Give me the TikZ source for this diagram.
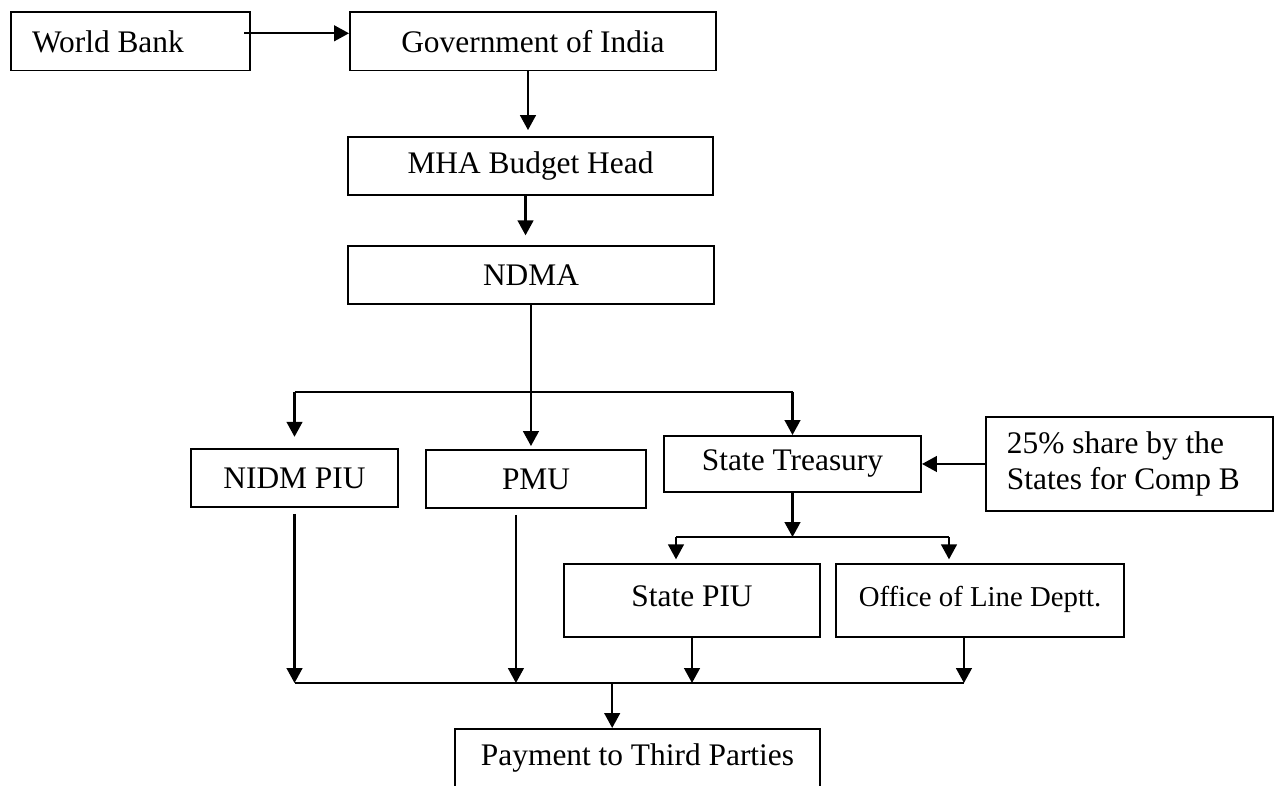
\documentclass[tikz,border=0pt]{standalone}
\usepackage{fontspec}
\setmainfont{Liberation Serif}
\usetikzlibrary{arrows.meta,positioning,calc}

\begin{document}
\begin{tikzpicture}[
    box/.style={rectangle, draw, line width=0.75pt, minimum height=0.78cm,
                align=center, font=\fontsize{12}{13.5}\selectfont},
    raised/.style={minimum height=0.98cm, text height=8.5pt, text depth=4.3pt},
    link/.style={line width=0.8pt},
    arr/.style={-{Triangle[length=5.7pt,width=6pt]}, line width=0.8pt}
  ]

  % ---- Page frame ----
  \useasboundingbox (0,0) rectangle (17.166,-10.544);

  % ---- Funding chain (top) ----
  \node[box, minimum width=3.21cm, text width=2.646cm, align=flush left,
        inner xsep=0.282cm] (wb) at (1.753,-0.557) {World Bank};
  \node[box, minimum width=4.916cm] (goi) at (7.159,-0.557) {Government of India};
  \node[box, minimum width=4.903cm] (mha) at (7.126,-2.230) {MHA Budget Head};
  \node[box, minimum width=4.916cm] (ndma) at (7.132,-3.694) {NDMA};

  % ---- Implementing units ----
  \node[box, minimum width=2.780cm] (nidm) at (3.956,-6.420) {NIDM PIU};
  \node[box, minimum width=2.955cm] (pmu) at (7.200,-6.434) {PMU};
  \node[box, minimum width=3.452cm, minimum height=0.752cm]
    (treas) at (10.645,-6.232) {State Treasury};
  \node[box, minimum width=3.855cm, minimum height=1.263cm, text width=3.291cm,
        align=flush left, inner xsep=0.282cm]
    (share) at (15.171,-6.232) {25\% share by the\\States for Comp B};

  % ---- State level ----
  \node[box, raised, minimum width=3.439cm] (spiu) at (9.295,-8.066) {State PIU};
  \node[box, raised, minimum width=3.868cm, font=\fontsize{11}{13}\selectfont]
    (dept) at (13.163,-8.066) {Office of Line Deptt.};

  % ---- Final payment ----
  \node[box, minimum width=4.903cm] (pay) at (8.563,-10.181) {Payment to Third Parties};

  % ---- Top arrows ----
  \draw[arr] ([xshift=-0.09cm,yshift=0.11cm]wb.east) -- ([yshift=0.11cm]goi.west);
  \draw[arr, shorten >=0.08cm] ([xshift=-0.067cm]goi.south)
    -- ([xshift=-0.067cm]goi.south |- mha.north);
  \draw[arr, shorten >=0.13cm] ([xshift=-0.067cm]mha.south)
    -- ([xshift=-0.067cm]mha.south |- ndma.north);
  \draw[arr, shorten >=0.04cm] (ndma.south) -- (ndma.south |- pmu.north);

  % ---- Split below NDMA ----
  \coordinate (split) at (7.132,-5.265);
  \draw[link] (split -| nidm.north) -- (split -| treas.north);
  \draw[arr, shorten >=0.15cm] (split -| nidm.north) -- (nidm.north);
  \draw[arr] (split -| treas.north) -- (treas.north);

  % ---- State share into treasury ----
  \draw[arr] (share.west) -- (treas.east);

  % ---- Split below State Treasury ----
  \coordinate (split2) at (10.645,-7.213);
  \draw[arr] (treas.south) -- (split2);
  \draw[link] ([xshift=-0.215cm]split2 -| spiu.north)
    -- ([xshift=-0.416cm]split2 -| dept.north);
  \draw[arr, shorten >=0.05cm] ([xshift=-0.215cm]split2 -| spiu.north)
    -- ([xshift=-0.215cm]spiu.north);
  \draw[arr, shorten >=0.05cm] ([xshift=-0.416cm]split2 -| dept.north)
    -- ([xshift=-0.416cm]dept.north);

  % ---- Merge into payment ----
  \coordinate (merge) at (8.563,-9.174);
  \draw[arr, shorten <=0.08cm] (nidm.south) -- (nidm.south |- merge);
  \draw[arr, shorten <=0.08cm] ([xshift=-0.27cm]pmu.south)
    -- ([xshift=-0.27cm]pmu.south |- merge);
  \draw[arr] (spiu.south) -- (spiu.south |- merge);
  \draw[arr] ([xshift=-0.215cm]dept.south) -- ([xshift=-0.215cm]dept.south |- merge);
  \draw[link] (merge -| nidm.south) -- ([xshift=-0.215cm]merge -| dept.south);
  \draw[arr] ([xshift=-0.34cm]merge -| pay.north) -- ([xshift=-0.34cm]pay.north);

\end{tikzpicture}
\end{document}
